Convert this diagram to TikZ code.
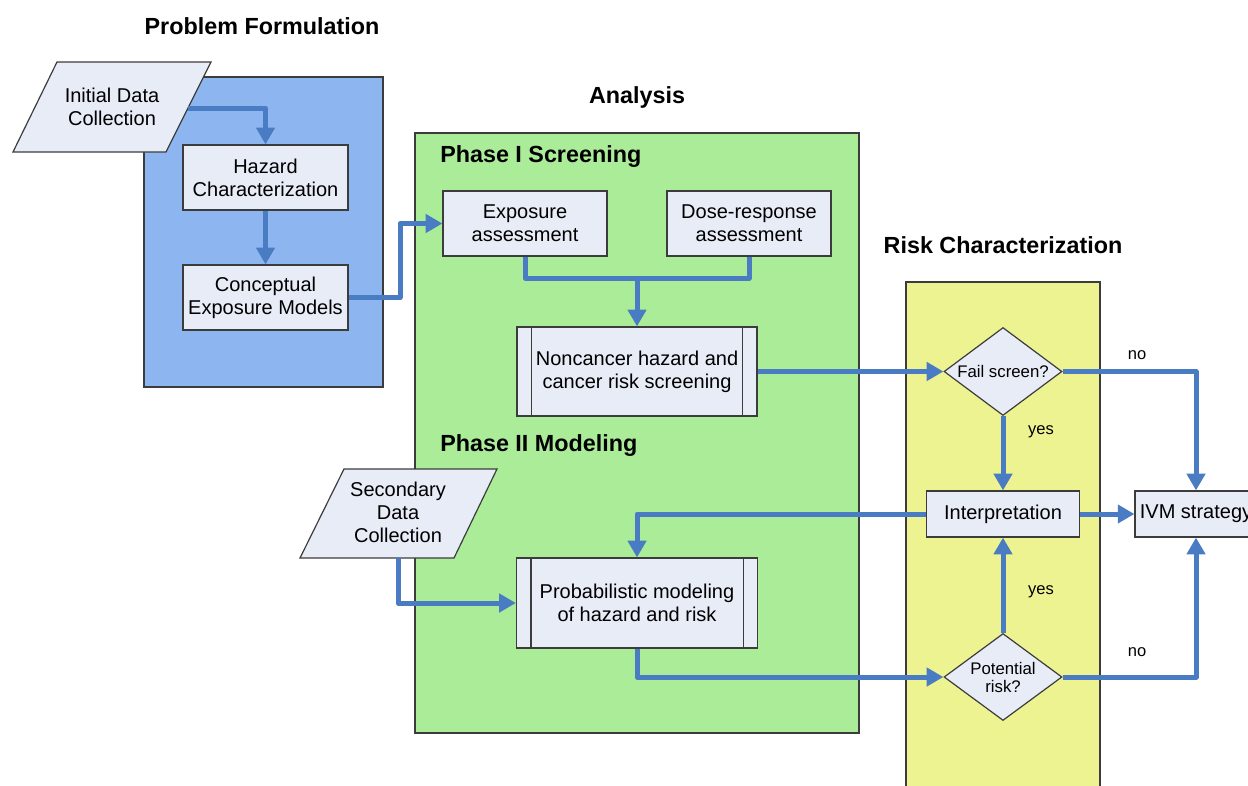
\documentclass[tikz,border=0pt]{standalone}
\usepackage{fontspec}
\setmainfont{Liberation Sans}
\usetikzlibrary{arrows.meta,shapes.geometric,calc}
\definecolor{panelblue}{RGB}{141,182,241}
\definecolor{panelgreen}{RGB}{171,236,153}
\definecolor{panelyellow}{RGB}{238,243,145}
\definecolor{boxfill}{RGB}{231,236,247}
\definecolor{flow}{RGB}{74,124,196}
\definecolor{edgegray}{RGB}{60,60,60}
\begin{document}
\begin{tikzpicture}[x=0.75pt,y=-0.75pt,
  panel/.style={draw=edgegray,line width=0.9pt},
  box/.style={draw=edgegray,fill=boxfill,line width=0.9pt,inner sep=0pt,align=center,font=\fontsize{15}{17.25}\selectfont},
  para/.style={draw=edgegray,fill=boxfill,line width=0.9pt},
  ptext/.style={inner sep=0pt,align=center,font=\fontsize{15}{17.25}\selectfont},
  dia/.style={diamond,draw=edgegray,fill=boxfill,line width=0.9pt,inner sep=0pt,aspect=1.34},
  dtext/.style={inner sep=0pt,align=center,font=\fontsize{12.6}{13.5}\selectfont},
  title/.style={inner sep=0pt,font=\fontsize{17.5}{20}\selectfont\bfseries},
  lab/.style={inner sep=0pt,font=\fontsize{12.4}{14}\selectfont},
  flowline/.style={draw=flow,line width=3.75pt,line join=round},
  arr/.style={flowline,-{Triangle[width=13.5pt,length=12.5pt]}}]
\useasboundingbox (0,0) rectangle (1248,785);
\clip (0,0) rectangle (1248,785);
\fill[white] (0,0) rectangle (1248,785);

% panels
\draw[panel,fill=panelblue] (144,77) rectangle (383,387);
\draw[panel,fill=panelgreen] (415,133) rectangle (859,733);
\draw[panel,fill=panelyellow] (906,282) rectangle (1100,800);

% titles
\node[title] (tpf) at (262,26) {Problem Formulation};
\node[title] (tan) at (637,97) {Analysis};
\node[title] (trc) at (1003,245) {Risk Characterization};
\node[title,anchor=west] (tp1) at (440,157) {Phase I Screening};
\node[title,anchor=west] (tp2) at (440,446) {Phase II Modeling};

% data parallelograms
\draw[para] (57,62) -- (211,62) -- (166,152) -- (13,152) -- cycle;
\node[ptext] (init) at (112,107) {Initial Data\\Collection};
\coordinate (initout) at (188,108);
\draw[para] (344,469) -- (497,469) -- (454,558) -- (300,558) -- cycle;
\node[ptext] (sec) at (398,512) {Secondary\\Data\\Collection};
\coordinate (secout) at (398,558);

% boxes
\node[box,minimum width=123.75pt,minimum height=48.75pt] (haz) at (265.5,177.5) {Hazard\\Characterization};
\node[box,minimum width=123.75pt,minimum height=48.75pt] (con) at (265.5,297.5) {Conceptual\\Exposure Models};
\node[box,minimum width=123pt,minimum height=48.75pt] (exp) at (525,223.5) {Exposure\\assessment};
\node[box,minimum width=123pt,minimum height=48.75pt] (dose) at (749,223.5) {Dose-response\\assessment};
\node[box,minimum width=180pt,minimum height=66.75pt] (non) at (637,371.5) {Noncancer hazard and\\cancer risk screening};
\draw[edgegray,line width=0.9pt] ([xshift=11.25pt]non.north west) -- ([xshift=11.25pt]non.south west)
  ([xshift=-11.25pt]non.north east) -- ([xshift=-11.25pt]non.south east);
\node[box,minimum width=180.75pt,minimum height=67.5pt] (prob) at (637,603) {Probabilistic modeling\\of hazard and risk};
\draw[edgegray,line width=0.9pt] ([xshift=11.25pt]prob.north west) -- ([xshift=11.25pt]prob.south west)
  ([xshift=-11.25pt]prob.north east) -- ([xshift=-11.25pt]prob.south east);
\node[box,minimum width=114.75pt,minimum height=34.5pt] (interp) at (1003,514) {Interpretation};
\node[box,minimum width=91.5pt,minimum height=34.5pt] (ivm) at (1196,514) {IVM strategy};

% diamonds
\node[dia,minimum width=88.5pt,minimum height=66pt] (fail) at (1003,371.5) {};
\node[dtext] (failt) at (fail.center) {Fail screen?};
\node[dia,minimum width=88.5pt,minimum height=65.25pt] (pot) at (1003,677) {};
\node[dtext] (pott) at (pot.center) {Potential\\risk?};

% connectors
\draw[arr] (initout) -| (haz.north);
\draw[arr] (haz.south) -- (con.north);
\coordinate (k1) at (400,0);
\draw[arr] (con.east) -- (con.east -| k1) -- (exp.west -| k1) -- (exp.west);
\coordinate (k2) at (637,278);
\draw[flowline] (exp.south) |- (k2);
\draw[flowline] (dose.south) |- (k2);
\draw[arr] (k2) -- (non.north);
\draw[arr] (non.east) -- (fail.west);
\draw[arr] (fail.south) -- (interp.north);
\draw[arr] (fail.east) -| (ivm.north);
\draw[arr] (interp.east) -- (ivm.west);
\draw[arr] (interp.west) -| (prob.north);
\draw[arr] (secout) |- (prob.west);
\draw[arr] (prob.south) |- (pot.west);
\draw[arr] (pot.north) -- (interp.south);
\draw[arr] (pot.east) -| (ivm.south);

% labels
\node[lab] (l1) at (1137,355) {no};
\node[lab] (l2) at (1041,432) {yes};
\node[lab] (l3) at (1041,592) {yes};
\node[lab] (l4) at (1137,652) {no};
\end{tikzpicture}
\end{document}
